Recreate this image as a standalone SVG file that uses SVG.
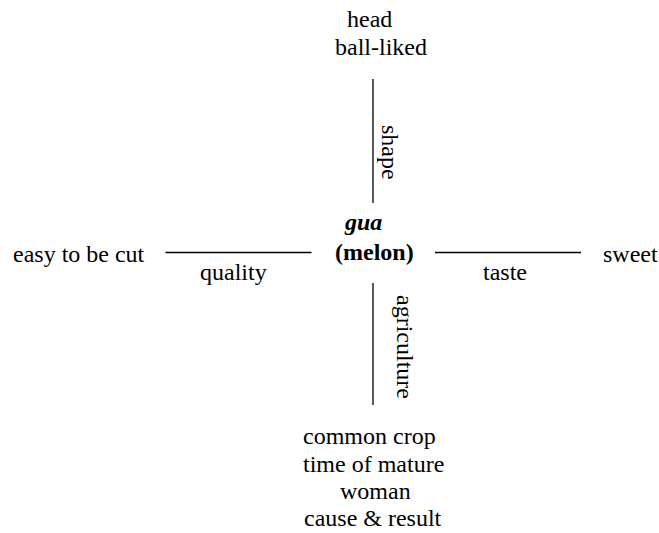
<svg xmlns="http://www.w3.org/2000/svg" width="659" height="533" viewBox="0 0 659 533">
<style>
text{font-family:"Liberation Serif","Times New Roman",serif;font-size:24px;fill:#000}
.b{font-weight:bold}
.bi{font-weight:bold;font-style:italic}
line{stroke:#000;stroke-width:1.3}
</style>
<rect width="659" height="533" fill="#fff"/>
<g id="connectors">
<line x1="373" y1="79" x2="373" y2="203"/>
<line x1="165.5" y1="252.5" x2="311.5" y2="252.5"/>
<line x1="435" y1="252.5" x2="581" y2="252.5"/>
<line x1="373" y1="283" x2="373" y2="405"/>
<text transform="translate(382,125) rotate(90)">shape</text>
<text x="200" y="280">quality</text>
<text x="483" y="280">taste</text>
<text transform="translate(397,295) rotate(90)">agriculture</text>
</g>
<g id="center">
<text class="bi" x="345" y="230">gua</text>
<text class="b" x="335" y="260">(melon)</text>
</g>
<g id="top">
<text x="347" y="27">head</text>
<text x="335" y="55">ball-liked</text>
</g>
<g id="left">
<text x="13" y="262">easy to be cut</text>
</g>
<g id="right">
<text x="603" y="262">sweet</text>
</g>
<g id="bottom">
<text x="303" y="444">common crop</text>
<text x="303" y="471.5">time of mature</text>
<text x="340" y="499">woman</text>
<text x="304" y="526">cause &amp; result</text>
</g>
</svg>
